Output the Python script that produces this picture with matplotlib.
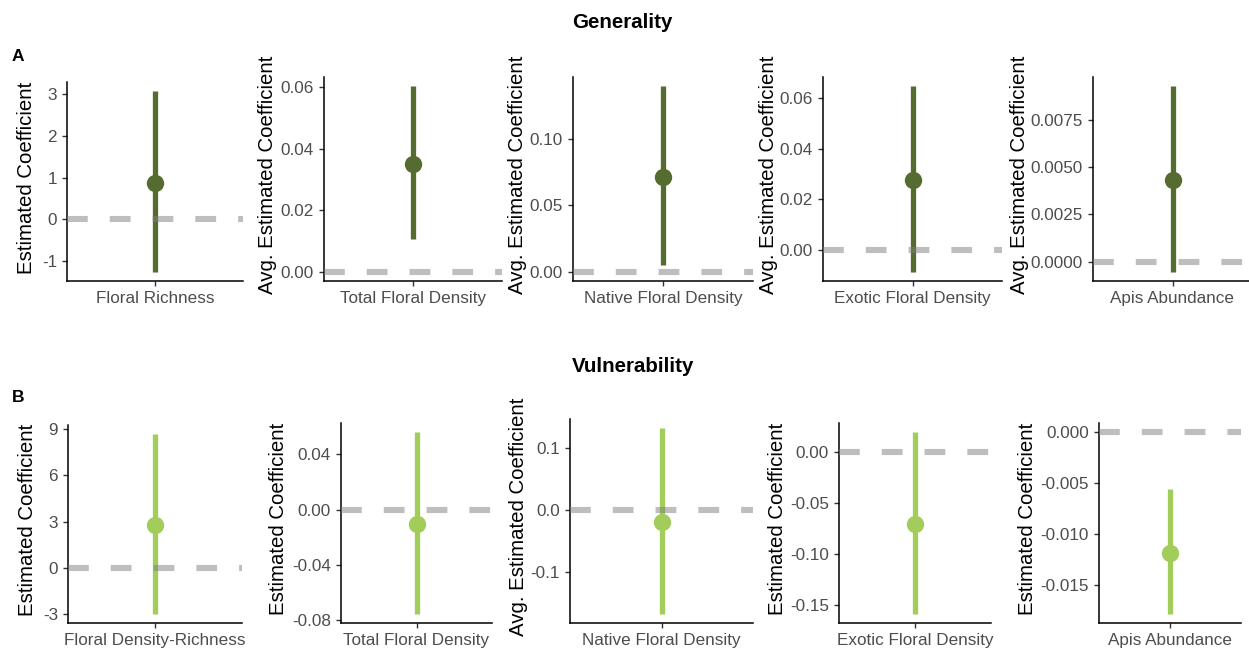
import matplotlib
matplotlib.use("Agg")
import matplotlib.pyplot as plt

plt.rcParams['font.family'] = ['Liberation Sans', 'DejaVu Sans']

# ---- Generality models (row A) ----
gen_predictors = ["Floral Richness", "Total Floral Density", "Native Floral Density",
                  "Exotic Floral Density", "Apis Abundance"]
gen_estimate = [0.87, 0.0351, 0.0717, 0.0275, 0.00432]
gen_lower = [-1.26, 0.0105, 0.0047, -0.0087, -0.00053]
gen_upper = [3.07, 0.0602, 0.1399, 0.0646, 0.00926]
gen_ylabels = ["Estimated Coefficient", "Avg. Estimated Coefficient",
               "Avg. Estimated Coefficient", "Avg. Estimated Coefficient",
               "Avg. Estimated Coefficient"]
gen_ticks = [[-1, 0, 1, 2, 3], [0, 0.02, 0.04, 0.06], [0, 0.05, 0.10],
             [0, 0.02, 0.04, 0.06], [0, 0.0025, 0.005, 0.0075]]
gen_ticklabels = [["-1", "0", "1", "2", "3"], ["0.00", "0.02", "0.04", "0.06"],
                  ["0.00", "0.05", "0.10"], ["0.00", "0.02", "0.04", "0.06"],
                  ["0.0000", "0.0025", "0.0050", "0.0075"]]

# ---- Vulnerability models (row B) ----
vul_predictors = ["Floral Density-Richness", "Total Floral Density", "Native Floral Density",
                  "Exotic Floral Density", "Apis Abundance"]
vul_estimate = [2.79, -0.0103, -0.019, -0.0701, -0.0118]
vul_lower = [-2.98, -0.0753, -0.168, -0.159, -0.0178]
vul_upper = [8.67, 0.056, 0.132, 0.0201, -0.0056]
vul_ylabels = ["Estimated Coefficient", "Estimated Coefficient",
               "Avg. Estimated Coefficient", "Estimated Coefficient",
               "Estimated Coefficient"]
vul_ticks = [[-3, 0, 3, 6, 9], [-0.08, -0.04, 0, 0.04], [-0.1, 0, 0.1],
             [-0.15, -0.10, -0.05, 0], [-0.015, -0.010, -0.005, 0]]
vul_ticklabels = [["-3", "0", "3", "6", "9"], ["-0.08", "-0.04", "0.00", "0.04"],
                  ["-0.1", "0.0", "0.1"], ["-0.15", "-0.10", "-0.05", "0.00"],
                  ["-0.015", "-0.010", "-0.005", "0.000"]]

titles = ["Generality", "Vulnerability"]
tags = ["A", "B"]

DARK = "#556B2F"
LIGHT = "#A2CD5A"

W, H = 1249, 651
fig = plt.figure(figsize=(W / 100, H / 100), dpi=100)

# panel boxes in pixels: (left, right, top, bottom) and y-label anchor offset
row_a_boxes = [(67, 243, 82, 281), (324, 502, 77, 281), (573, 753, 77, 281),
               (823, 1002, 77, 281), (1093, 1252, 77, 281)]
row_a_lab = [-31, -46.5, -46, -45, -64]
row_b_boxes = [(68, 242, 425, 623), (341, 492, 423, 623), (570, 753, 419, 623),
               (839, 991, 423, 623), (1099, 1241, 423, 623)]
row_b_lab = [-31, -53, -42, -52, -62]


def add_panel(box, lab_off, est, lo, hi, name, ylabel, ticks, ticklabels, color):
    l, r, t, b = box
    ax = fig.add_axes([l / W, 1 - b / H, (r - l) / W, (b - t) / H])
    ax.vlines(1, lo, hi, color=color, linewidth=3.8, zorder=2)
    ax.plot([1], [est], 'o', color=color, markersize=11.5, zorder=3)
    ax.axhline(0, color="#7F7F7F", alpha=0.5, linewidth=4.4,
               linestyle=(0, (3.4, 3.6)), dash_capstyle='butt', zorder=4)
    ymin, ymax = min(lo, 0), max(hi, 0)
    pad = 0.05 * (ymax - ymin)
    ax.set_ylim(ymin - pad, ymax + pad)
    ax.set_xlim(0.4, 1.6)
    ax.set_xticks([1])
    ax.set_xticklabels([name])
    ax.set_yticks(ticks)
    ax.set_yticklabels(ticklabels)
    for s in ("top", "right"):
        ax.spines[s].set_visible(False)
    for s in ("left", "bottom"):
        ax.spines[s].set_linewidth(1.1)
        ax.spines[s].set_color("black")
    ax.tick_params(axis="both", length=3.6, width=1.0, color="#333333",
                   labelsize=12.3, labelcolor="#4D4D4D", pad=3.6)
    ax.set_ylabel(ylabel, fontsize=14.7, color="black")
    ax.yaxis.set_label_coords(lab_off / (r - l), 0.52)
    return ax


for i in range(5):
    add_panel(row_a_boxes[i], row_a_lab[i], gen_estimate[i], gen_lower[i], gen_upper[i],
              gen_predictors[i], gen_ylabels[i], gen_ticks[i], gen_ticklabels[i], DARK)
    add_panel(row_b_boxes[i], row_b_lab[i], vul_estimate[i], vul_lower[i], vul_upper[i],
              vul_predictors[i], vul_ylabels[i], vul_ticks[i], vul_ticklabels[i], LIGHT)

fig.text(622 / W, 1 - 28 / H, titles[0], fontsize=14.8, fontweight="bold",
         ha="center", va="baseline")
fig.text(633 / W, 1 - 372 / H, titles[1], fontsize=14.8, fontweight="bold",
         ha="center", va="baseline")
fig.text(12 / W, 1 - 61 / H, tags[0], fontsize=12.5, fontweight="bold",
         ha="left", va="baseline")
fig.text(12 / W, 1 - 402 / H, tags[1], fontsize=12.5, fontweight="bold",
         ha="left", va="baseline")

fig.savefig("out.png", dpi=100, facecolor="white")
